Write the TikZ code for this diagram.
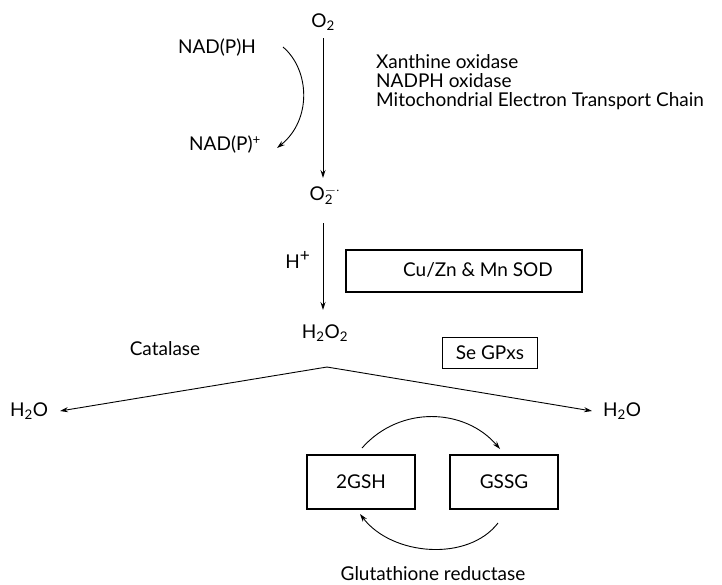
\documentclass[tikz,border=0pt]{standalone}
\usepackage{fontspec}
\setmainfont{Lato}
\usetikzlibrary{arrows.meta}
\newcommand{\sbs}[1]{\textsubscript{#1}}
\newcommand{\sps}[1]{\textsuperscript{#1}}
\begin{document}
\begin{tikzpicture}[x=1pt,y=-1pt,
  lbl/.style={inner sep=0pt,font=\fontsize{19}{19}\selectfont},
  chem/.style={inner sep=0pt,font=\fontsize{19}{19}\selectfont},
  enzbox/.style={draw,line width=1.8pt,inner sep=0pt,font=\fontsize{19}{19}\selectfont},
  gbox/.style={draw,line width=1.3pt,inner sep=0pt,font=\fontsize{19}{19}\selectfont},
  arr/.style={line width=0.9pt,-{Stealth[length=8pt,width=5pt]}}]
\useasboundingbox (0,0) rectangle (722,584);
% species
\node[chem] (o2) at (323,22) {O\sbs{2}};
\node[chem] (o2r) at (325,195) {O\rlap{\sbs{2}}\sps{$-\cdot$}};
\node[chem] (h2o2) at (325,333) {H\sbs{2}O\sbs{2}};
\node[chem] (h2ol) at (29,411) {H\sbs{2}O};
\node[chem] (h2or) at (622,411) {H\sbs{2}O};
\node[lbl] (nadph) at (217,48) {NAD(P)H};
\node[lbl] (nadp) at (225,145) {NAD(P)\sps{+}};
\node[lbl,align=left,anchor=west] (enz) at (376,82) {Xanthine oxidase\\NADPH oxidase\\Mitochondrial Electron Transport Chain};
\node[chem] (hplus) at (298,260) {H\sps{\LARGE +}};
\node[enzbox,minimum width=236pt,minimum height=42pt] (sod) at (464,271) {};
\node[lbl] (sodt) at (478,270) {Cu/Zn \& Mn SOD};
\node[enzbox,minimum width=95pt,minimum height=31pt] (gpx) at (490,353) {Se GPxs};
\node[lbl] (cat) at (165,349) {Catalase};
\node[gbox,minimum width=108pt,minimum height=54pt] (gsh) at (361,482) {2GSH};
\node[gbox,minimum width=108pt,minimum height=54pt] (gssg) at (504,482) {GSSG};
\node[lbl] (gr) at (433,574) {Glutathione reductase};
% connector ends
\coordinate (a1s) at (323,38);
\coordinate (a1e) at (323,178);
\coordinate (a2s) at (323,223);
\coordinate (a2e) at (323,310);
\coordinate (apex) at (327,367);
\coordinate (tl) at (60,411);
\coordinate (tr) at (592,411);
\coordinate (nads) at (283,47);
\coordinate (nade) at (277,148);
\coordinate (gs1) at (362,448);
\coordinate (gs2) at (500,449);
\coordinate (gr1) at (498,523);
\coordinate (gr2) at (360,514);
% connectors
\draw[arr] (a1s) -- (a1e);
\draw[arr] (a2s) -- (a2e);
\draw[arr] (apex) -- (tl);
\draw[arr] (apex) -- (tr);
\draw[arr] (nads) .. controls (310,70) and (312,120) .. (nade);
\draw[arr] (gs1) .. controls (400,405) and (465,408) .. (gs2);
\draw[arr] (gr1) .. controls (468,562) and (392,556) .. (gr2);
\end{tikzpicture}
\end{document}
